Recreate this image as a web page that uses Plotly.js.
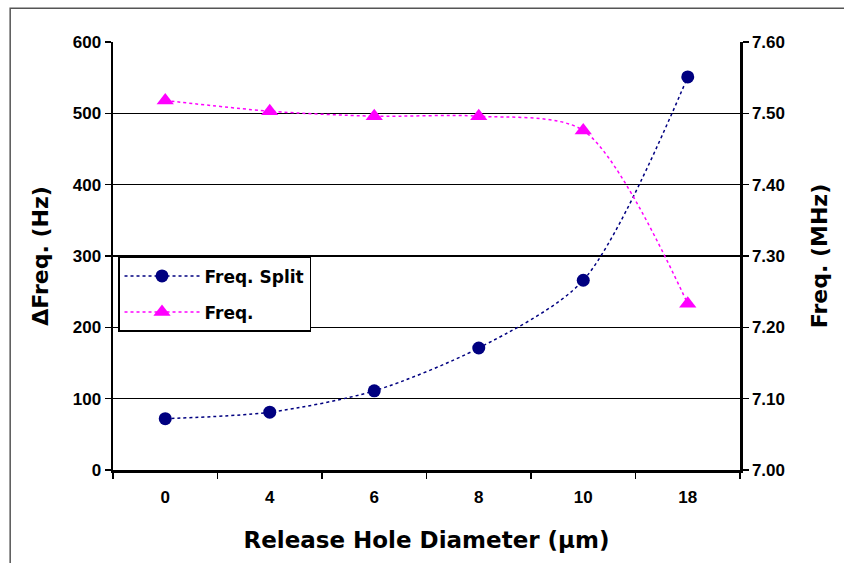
<!DOCTYPE html>
<html>
<head>
<meta charset="utf-8">
<script src="https://cdn.plot.ly/plotly-3.0.1.min.js"></script>
<style>
html,body{margin:0;padding:0;background:#fff;}
#chart{width:844px;height:563px;}
</style>
</head>
<body>
<div id="chart"></div>
<script>
const categories = ["0", "4", "6", "8", "10", "18"];
const freqSplit = [72, 81, 111, 171, 266, 551];
const freq = [7.518, 7.503, 7.496, 7.496, 7.476, 7.233];
const leftTicks = [0, 100, 200, 300, 400, 500, 600];
const rightTicks = [7.0, 7.1, 7.2, 7.3, 7.4, 7.5, 7.6];

const traces = [
  {
    x: categories, y: freqSplit, name: "Freq. Split", type: "scatter", mode: "lines+markers",
    legendgroup: "a",
    line: {color: "#000080", dash: "dot", width: 1.5, shape: "spline", smoothing: 0.8},
    marker: {color: "#000080", symbol: "circle", size: 13},
    yaxis: "y"
  },
  {
    x: categories, y: freq, name: "Freq.", type: "scatter", mode: "lines+markers",
    legendgroup: "b",
    line: {color: "#FF00FF", dash: "dot", width: 1.5, shape: "spline", smoothing: 0.8},
    marker: {color: "#FF00FF", symbol: "triangle-up", size: 15},
    yaxis: "y2"
  }
];

const tickFont = {family: "Liberation Sans, Arial, sans-serif", size: 17, color: "#000", weight: "bold"};
const titleFont = {family: "DejaVu Sans, sans-serif", size: 22, color: "#000", weight: "bold"};

const layout = {
  width: 844, height: 563,
  margin: {l: 113, r: 104, t: 42, b: 93},
  paper_bgcolor: "rgba(0,0,0,0)",
  plot_bgcolor: "rgba(0,0,0,0)",
  showlegend: true,
  legend: {
    x: 0.008, y: 0.498, xanchor: "left", yanchor: "top",
    bgcolor: "#fff", bordercolor: "#000", borderwidth: 1.5,
    font: {family: "DejaVu Sans, sans-serif", size: 17, color: "#000", weight: "bold"},
    entrywidth: 230, itemwidth: 75, tracegroupgap: 11
  },
  xaxis: {
    type: "category", range: [-0.5, 5.5],
    tickmode: "array", tickvals: categories, ticktext: categories,
    tickson: "boundaries", ticks: "outside", ticklen: 6, tickwidth: 1.5, tickcolor: "#000",
    ticklabelstandoff: 10,
    showline: true, linecolor: "#000", linewidth: 2.5, mirror: false,
    showgrid: false, zeroline: false,
    tickfont: tickFont,
    title: {text: "Release Hole Diameter (\u00b5m)", font: {family: "DejaVu Sans, sans-serif", size: 23, color: "#000", weight: "bold"}, standoff: 26}
  },
  yaxis: {
    range: [0, 600], tickmode: "array", tickvals: leftTicks,
    ticks: "outside", ticklen: 6, tickwidth: 1.5, tickcolor: "#000",
    showline: true, linecolor: "#000", linewidth: 2.5,
    showgrid: true, gridcolor: "#000", gridwidth: 1.5, zeroline: false,
    tickfont: tickFont,
    title: {text: "\u0394Freq. (Hz)", font: titleFont, standoff: 18}
  },
  yaxis2: {
    range: [7.0, 7.6], overlaying: "y", side: "right",
    tickmode: "array", tickvals: rightTicks, tickformat: ".2f",
    ticks: "outside", ticklen: 6, tickwidth: 1.5, tickcolor: "#000",
    showline: true, linecolor: "#000", linewidth: 2.5,
    showgrid: false, zeroline: false,
    tickfont: tickFont,
    title: {text: "Freq. (MHz)", font: titleFont, standoff: 28}
  },
  shapes: [
    {type: "rect", xref: "paper", yref: "paper", x0: -0.164, x1: 1.3, y0: -0.3, y1: 1.079,
     line: {color: "#555", width: 1.5}, layer: "below"}
  ]
};

Plotly.newPlot("chart", traces, layout, {displayModeBar: false, staticPlot: true});
</script>
</body>
</html>
